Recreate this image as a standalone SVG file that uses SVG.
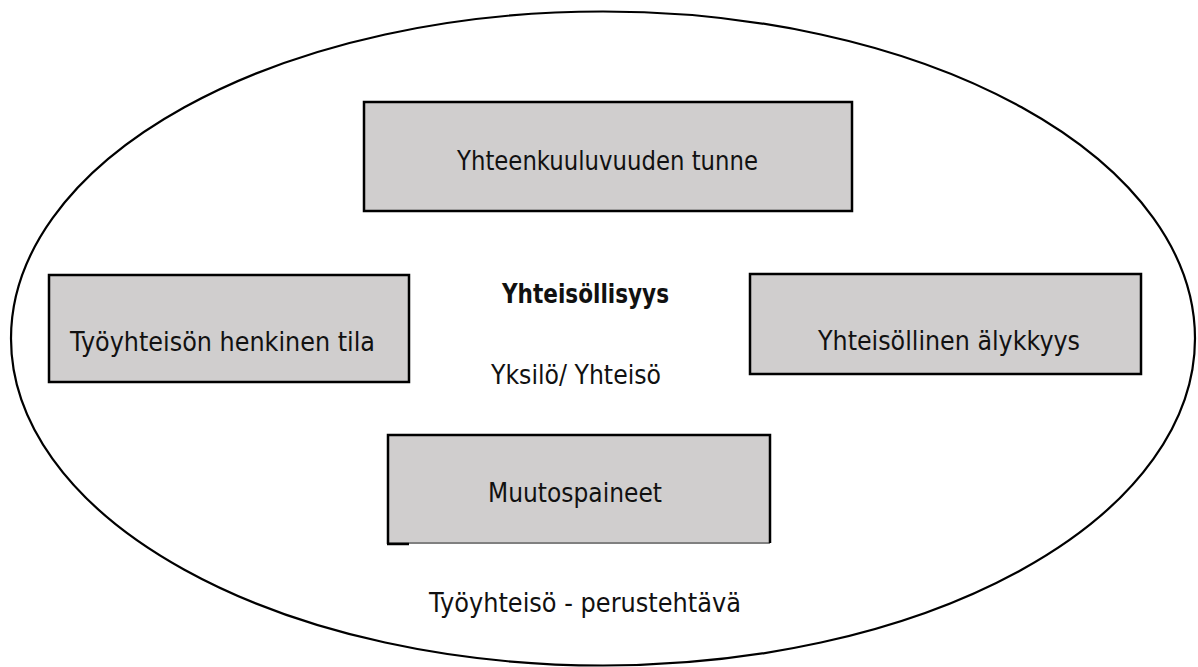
<svg xmlns="http://www.w3.org/2000/svg" width="1198" height="667" viewBox="0 0 1198 667">
<style>
  .box { fill: #d0cece; stroke: #000; stroke-width: 2.5; }
  .lbl { font-family: "DejaVu Sans", "Liberation Sans", sans-serif; font-size: 26px; fill: #111; }
  .bold { font-weight: bold; }
</style>
<rect width="1198" height="667" fill="#fff"/>
<g id="outer">
  <ellipse cx="603" cy="338.5" rx="592" ry="327" fill="none" stroke="#000" stroke-width="2.2"/>
</g>
<g id="connectors"></g>
<g id="node-top">
  <rect class="box" x="364" y="102" width="488" height="109"/>
  <text class="lbl" x="457" y="170" textLength="301" lengthAdjust="spacingAndGlyphs">Yhteenkuuluvuuden tunne</text>
</g>
<g id="node-left">
  <rect class="box" x="49" y="275" width="360" height="107"/>
  <text class="lbl" x="70" y="351" textLength="305" lengthAdjust="spacingAndGlyphs">Työyhteisön henkinen tila</text>
</g>
<g id="node-right">
  <rect class="box" x="750" y="274" width="391" height="100"/>
  <text class="lbl" x="818" y="350" textLength="262" lengthAdjust="spacingAndGlyphs">Yhteisöllinen älykkyys</text>
</g>
<g id="node-bottom">
  <rect x="388" y="435" width="382" height="108" fill="#d0cece"/>
  <line x1="388" y1="543" x2="770" y2="543" stroke="#808080" stroke-width="2"/>
  <polyline points="388,544 388,435 770,435 770,543" fill="none" stroke="#000" stroke-width="2.5"/>
  <line x1="387" y1="544" x2="409" y2="544" stroke="#000" stroke-width="2.5"/>
  <text class="lbl" x="488" y="502" textLength="174" lengthAdjust="spacingAndGlyphs">Muutospaineet</text>
</g>
<g id="center-labels">
  <text class="lbl bold" x="502" y="303" font-size="24" textLength="167" lengthAdjust="spacingAndGlyphs">Yhteisöllisyys</text>
  <text class="lbl" x="491" y="384" textLength="170" lengthAdjust="spacingAndGlyphs">Yksilö/ Yhteisö</text>
  <text class="lbl" x="429" y="612" textLength="312" lengthAdjust="spacingAndGlyphs">Työyhteisö - perustehtävä</text>
</g>
</svg>
